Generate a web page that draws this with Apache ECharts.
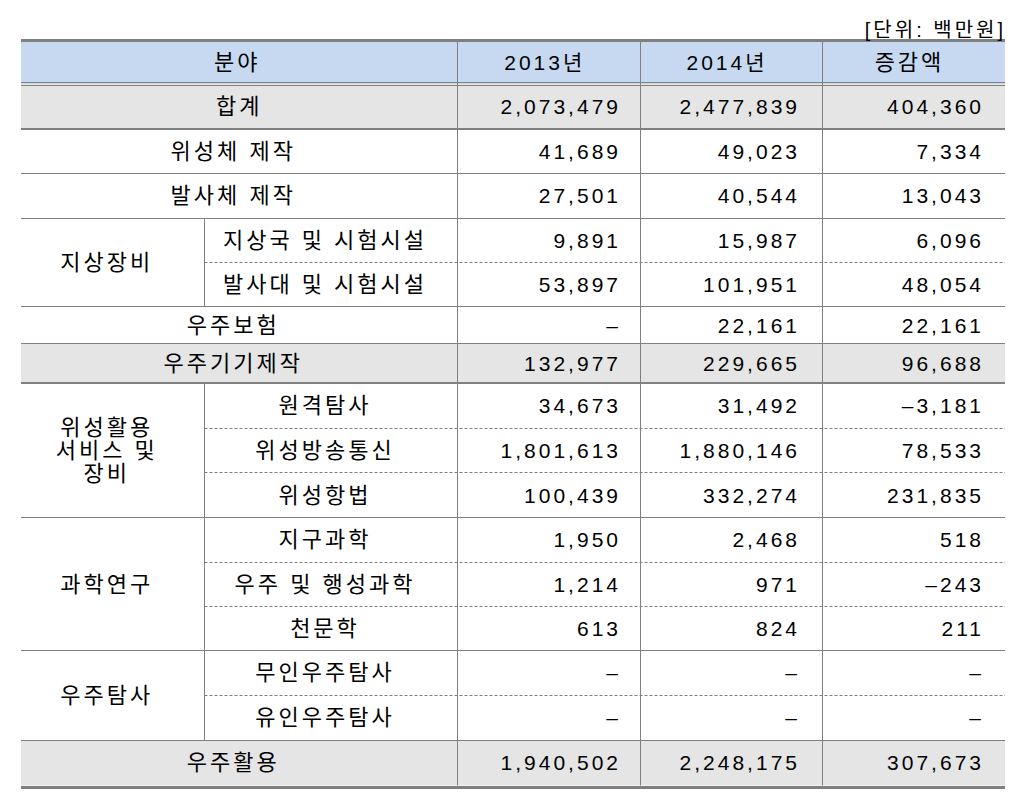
<!DOCTYPE html>
<html>
<head>
<meta charset="utf-8">
<script src="https://cdn.jsdelivr.net/npm/echarts@6/dist/echarts.min.js"></script>
<style>
  html, body { margin: 0; padding: 0; background: #fff; }
  /* HWP-style tracking; inherited by the svg text nodes */
  #chart { width: 1028px; height: 797px; letter-spacing: 3px; }
</style>
</head>
<body>
<div id="chart"></div>
<script>
// ---- data ----
const unitLabel = '[단위: 백만원]'
const headers = ['분야', '2013년', '2014년', '증감액']

const groupLabels = [
  '합계', '위성체 제작', '발사체 제작', '지상장비', '지상장비', '우주보험', '우주기기제작',
  '위성활용\n서비스 및\n장비', '위성활용\n서비스 및\n장비', '위성활용\n서비스 및\n장비',
  '과학연구', '과학연구', '과학연구', '우주탐사', '우주탐사', '우주활용'
]
const itemLabels = [
  '', '', '', '지상국 및 시험시설', '발사대 및 시험시설', '', '',
  '원격탐사', '위성방송통신', '위성항법',
  '지구과학', '우주 및 행성과학', '천문학', '무인우주탐사', '유인우주탐사', ''
]
const v2013 = [2073479, 41689, 27501, 9891, 53897, null, 132977, 34673, 1801613, 100439, 1950, 1214, 613, null, null, 1940502]
const v2014 = [2477839, 49023, 40544, 15987, 101951, 22161, 229665, 31492, 1880146, 332274, 2468, 971, 824, null, null, 2248175]
const change = [404360, 7334, 13043, 6096, 48054, 22161, 96688, -3181, 78533, 231835, 518, -243, 211, null, null, 307673]

// ---- layout / style ----
const subtotalRows = ['합계', '우주기기제작', '우주활용']
const colWidths = [183.5, 253, 182.5, 182, 183]
const rowHeights = [42.5, 45, 44.3, 45, 44, 44.2, 37, 39.8, 44.7, 44.7, 44.6, 44.7, 44.7, 44, 44.3, 45, 45.5]
const FAMILY = "'Liberation Sans', 'Noto Sans CJK KR', sans-serif"
const NUM_FONT = '21px ' + FAMILY
const LABEL_FONT = '22px ' + FAMILY
const LINE = '#808080'
const HEAD_FILL = '#c6d9f1'
const SUB_FILL = '#e5e5e5'
const NUM_PAD = [19, 22, 21]
const LABEL_SHIFT = -6

const cum = arr => arr.reduce((acc, w) => { acc.push(acc[acc.length - 1] + w); return acc }, [0])
const colEdges = cum(colWidths)
const rowEdges = cum(rowHeights)
const W = colEdges[colEdges.length - 1]
const H = rowEdges[rowEdges.length - 1]

const fmt = n => n == null ? '–' : (n < 0 ? '–' : '') + Math.abs(n).toLocaleString('en-US')

// ---- cells ----
const cells = []
function addCell(c0, c1, r0, r1, text, align, fill, shift, font) {
  cells.push({
    x0: colEdges[c0], x1: colEdges[c1], y0: rowEdges[r0], y1: rowEdges[r1],
    text, align, fill, shift: shift || 0, font: font || NUM_FONT,
    pad: align === 'right' ? NUM_PAD[c0 - 2] : 0
  })
}
addCell(0, 2, 0, 1, headers[0], 'center', HEAD_FILL, -2, LABEL_FONT)
for (let k = 1; k < 4; k++) addCell(k + 1, k + 2, 0, 1, headers[k], 'center', HEAD_FILL, -4, k === 3 ? LABEL_FONT : NUM_FONT)

const merged = i => itemLabels[i] !== ''
groupLabels.forEach((g, i) => {
  const r = i + 1
  const fill = subtotalRows.includes(g) ? SUB_FILL : null
  if (!merged(i)) {
    addCell(0, 2, r, r + 1, g, 'center', fill, g === '합계' ? 0 : LABEL_SHIFT, LABEL_FONT)
  } else {
    if (i === 0 || groupLabels[i - 1] !== g || !merged(i - 1)) {
      let end = i
      while (end + 1 < groupLabels.length && groupLabels[end + 1] === g && merged(end + 1)) end++
      addCell(0, 1, r, end + 2, g, 'center', fill, LABEL_SHIFT, LABEL_FONT)
    }
    addCell(1, 2, r, r + 1, itemLabels[i], 'center', fill, LABEL_SHIFT, LABEL_FONT)
  }
  addCell(2, 3, r, r + 1, fmt(v2013[i]), 'right', fill)
  addCell(3, 4, r, r + 1, fmt(v2014[i]), 'right', fill)
  addCell(4, 5, r, r + 1, fmt(change[i]), 'right', fill)
})

// ---- rules ----
const lines = []
function hLine(x0, x1, y, width, dash, offset) { lines.push({ x0, y0: y, x1, y1: y, width, dash, dir: 'h', offset: offset || 0 }) }
function vLine(x, y0, y1) { lines.push({ x0: x, y0, x1: x, y1, width: 1, dash: null, dir: 'v', offset: 0 }) }

hLine(0, W, 0, 3, null, -1.5)
hLine(0, W, rowEdges[1], 1, null, -1.2)
hLine(0, W, rowEdges[1], 1, null, 1.2)
for (let i = 0; i < groupLabels.length - 1; i++) {
  const y = rowEdges[i + 2]
  if (merged(i) && merged(i + 1) && groupLabels[i] === groupLabels[i + 1]) {
    hLine(colEdges[1], W, y, 1, [3, 2])
  } else {
    hLine(0, W, y, subtotalRows.includes(groupLabels[i]) ? 2 : 1, null)
  }
}
hLine(0, W, H, 3, null, 1.5)
for (let k = 2; k < 5; k++) vLine(colEdges[k], 0, H)
groupLabels.forEach((g, i) => {
  if (merged(i) && (i === 0 || groupLabels[i - 1] !== g || !merged(i - 1))) {
    let end = i
    while (end + 1 < groupLabels.length && groupLabels[end + 1] === g && merged(end + 1)) end++
    vLine(colEdges[1], rowEdges[i + 1], rowEdges[end + 2])
  }
})

function renderCell(params, api) {
  const c = cells[params.dataIndex]
  const p0 = api.coord([api.value(0), api.value(2)])
  const p1 = api.coord([api.value(1), api.value(3)])
  const children = []
  if (c.fill) {
    children.push({ type: 'rect', shape: { x: p0[0], y: p0[1], width: p1[0] - p0[0], height: p1[1] - p0[1] }, style: { fill: c.fill } })
  }
  const tx = c.align === 'right' ? p1[0] - c.pad : (p0[0] + p1[0]) / 2 + c.shift
  children.push({
    type: 'text',
    style: {
      text: c.text, x: tx, y: (p0[1] + p1[1]) / 2,
      font: c.font, fill: '#000', lineHeight: 23,
      align: c.align, verticalAlign: 'middle',
      textAlign: c.align, textVerticalAlign: 'middle'
    }
  })
  return { type: 'group', children }
}

function renderLine(params, api) {
  const l = lines[params.dataIndex]
  const a = api.coord([api.value(0), api.value(1)])
  const b = api.coord([api.value(2), api.value(3)])
  const crisp = v => (l.width % 2 === 1 ? Math.round(v - 0.5) + 0.5 : Math.round(v))
  let shape
  if (l.dir === 'h') {
    const y = crisp(a[1] + l.offset)
    shape = { x1: a[0], y1: y, x2: b[0], y2: y }
  } else {
    const x = crisp(a[0])
    shape = { x1: x, y1: a[1], x2: x, y2: b[1] }
  }
  return { type: 'line', shape, style: { stroke: LINE, lineWidth: l.width, lineDash: l.dash || null } }
}

const chart = echarts.init(document.getElementById('chart'), null, { renderer: 'svg' })
chart.setOption({
  animation: false,
  title: {
    // right offset leaves room for the css tracking, which echarts does not measure
    text: unitLabel, right: 49, top: 20, padding: 0,
    textStyle: { fontSize: 20, fontWeight: 'normal', color: '#000', fontFamily: FAMILY }
  },
  grid: { left: 21, top: 41.5, width: W, height: H },
  xAxis: { type: 'value', min: 0, max: W, show: false },
  yAxis: { type: 'value', min: 0, max: H, inverse: true, show: false },
  series: [
    {
      type: 'custom', renderItem: renderCell, clip: false, silent: true,
      encode: { x: [0, 1], y: [2, 3] },
      data: cells.map(c => [c.x0, c.x1, c.y0, c.y1])
    },
    {
      type: 'custom', renderItem: renderLine, clip: false, silent: true,
      encode: { x: [0, 2], y: [1, 3] },
      data: lines.map(l => [l.x0, l.y0, l.x1, l.y1])
    }
  ]
})
</script>
</body>
</html>
